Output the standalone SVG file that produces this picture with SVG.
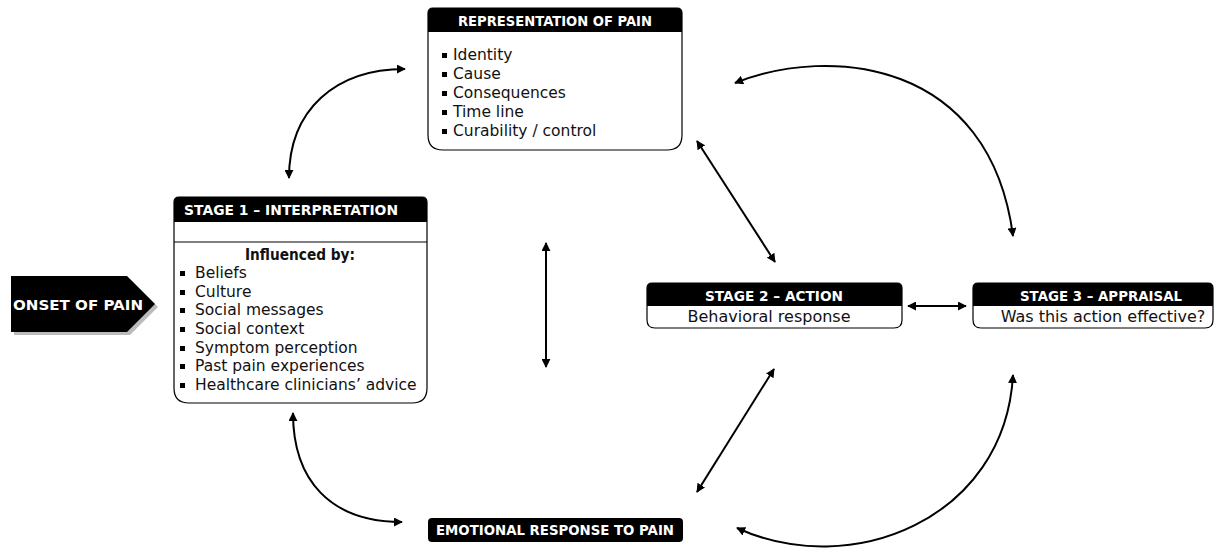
<svg xmlns="http://www.w3.org/2000/svg" width="1225" height="549" viewBox="0 0 1225 549">
<defs>
<marker id="ah" viewBox="0 0 10 10" refX="9" refY="5" markerWidth="4.5" markerHeight="4.5" orient="auto-start-reverse" markerUnits="strokeWidth">
<path d="M0,0 L10,5 L0,10 z" fill="#000"/>
</marker>
<style>
.box{fill:#fff;stroke:#000;stroke-width:1.2}
.hdr{fill:#000}
.ht{font-family:"DejaVu Sans",sans-serif;font-weight:bold;font-size:14px;fill:#fff;text-anchor:middle}
.bt{font-family:"DejaVu Sans",sans-serif;font-size:15.5px;fill:#111}
.btc{font-family:"DejaVu Sans",sans-serif;font-size:16px;fill:#111;text-anchor:middle}
.bul{fill:#000}
.con{fill:none;stroke:#000;stroke-width:2;marker-start:url(#ah);marker-end:url(#ah)}
</style>
</defs>
<rect width="1225" height="549" fill="#fff"/>

<g id="onset">
<path d="M14,279 L130,279 L158,307 L130,335 L14,335 z" fill="#bbb"/>
<path d="M11,276 L127,276 L155,304 L127,332 L11,332 z" fill="#000"/>
<text x="78" y="310" class="ht" font-size="15" textLength="130" lengthAdjust="spacingAndGlyphs">ONSET OF PAIN</text>
</g>

<g id="representation">
<path d="M428,13 Q428,8 433,8 L677,8 Q682,8 682,13 L682,135 Q682,150 667,150 L443,150 Q428,150 428,135 z" class="box"/>
<path d="M428,13 Q428,8 433,8 L677,8 Q682,8 682,13 L682,32 L428,32 z" class="hdr"/>
<text x="555" y="26" class="ht" textLength="194" lengthAdjust="spacingAndGlyphs">REPRESENTATION OF  PAIN</text>
<rect x="442" y="53" width="5" height="5" class="bul"/>
<rect x="442" y="72" width="5" height="5" class="bul"/>
<rect x="442" y="91" width="5" height="5" class="bul"/>
<rect x="442" y="110" width="5" height="5" class="bul"/>
<rect x="442" y="129" width="5" height="5" class="bul"/>
<text x="453" y="60" class="bt">Identity</text>
<text x="453" y="79" class="bt">Cause</text>
<text x="453" y="98" class="bt">Consequences</text>
<text x="453" y="117" class="bt">Time line</text>
<text x="453" y="136" class="bt">Curability / control</text>
</g>

<g id="stage1">
<path d="M174,202 Q174,197 179,197 L422,197 Q427,197 427,202 L427,388 Q427,403 412,403 L189,403 Q174,403 174,388 z" class="box"/>
<path d="M174,202 Q174,197 179,197 L422,197 Q427,197 427,202 L427,222 L174,222 z" class="hdr"/>
<line x1="174" y1="242" x2="427" y2="242" stroke="#000" stroke-width="1.2"/>
<text x="291" y="215" class="ht" textLength="214" lengthAdjust="spacingAndGlyphs">STAGE 1 – INTERPRETATION</text>
<text x="300" y="260" class="bt" text-anchor="middle" font-weight="bold" textLength="110" lengthAdjust="spacingAndGlyphs">Influenced by:</text>
<rect x="180" y="271" width="5" height="5" class="bul"/>
<rect x="180" y="290" width="5" height="5" class="bul"/>
<rect x="180" y="308" width="5" height="5" class="bul"/>
<rect x="180" y="327" width="5" height="5" class="bul"/>
<rect x="180" y="346" width="5" height="5" class="bul"/>
<rect x="180" y="364" width="5" height="5" class="bul"/>
<rect x="180" y="383" width="5" height="5" class="bul"/>
<text x="195" y="278" class="bt">Beliefs</text>
<text x="195" y="297" class="bt">Culture</text>
<text x="195" y="315" class="bt">Social messages</text>
<text x="195" y="334" class="bt">Social context</text>
<text x="195" y="353" class="bt">Symptom perception</text>
<text x="195" y="371" class="bt">Past pain experiences</text>
<text x="195" y="390" class="bt">Healthcare clinicians’ advice</text>
</g>

<g id="stage2">
<path d="M647,288 Q647,283 652,283 L897,283 Q902,283 902,288 L902,320 Q902,328 894,328 L655,328 Q647,328 647,320 z" class="box"/>
<path d="M647,288 Q647,283 652,283 L897,283 Q902,283 902,288 L902,306 L647,306 z" class="hdr"/>
<text x="774" y="301" class="ht" textLength="138" lengthAdjust="spacingAndGlyphs">STAGE 2 – ACTION</text>
<text x="769" y="322" class="btc">Behavioral response</text>
</g>

<g id="stage3">
<path d="M973,288 Q973,283 978,283 L1208,283 Q1213,283 1213,288 L1213,320 Q1213,328 1205,328 L981,328 Q973,328 973,320 z" class="box"/>
<path d="M973,288 Q973,283 978,283 L1208,283 Q1213,283 1213,288 L1213,306 L973,306 z" class="hdr"/>
<text x="1101" y="301" class="ht" textLength="162" lengthAdjust="spacingAndGlyphs">STAGE 3 – APPRAISAL</text>
<text x="1103" y="322" class="btc">Was this action effective?</text>
</g>

<g id="emotional">
<rect x="428" y="518" width="255" height="24" rx="4" class="hdr"/>
<text x="555" y="535" class="ht" textLength="238" lengthAdjust="spacingAndGlyphs">EMOTIONAL RESPONSE TO PAIN</text>
</g>

<g id="connectors">
<path d="M289,178 C289,110 335,69 405,69" class="con"/>
<path d="M735,83 C830,45 990,60 1013,236" class="con"/>
<line x1="546" y1="243" x2="546" y2="367" class="con"/>
<line x1="697" y1="141" x2="775" y2="262" class="con"/>
<line x1="697" y1="492" x2="774" y2="369" class="con"/>
<path d="M1013,375 C1005,520 850,580 737,528" class="con"/>
<path d="M293,413 C293,480 330,522 402,522" class="con"/>
<line x1="908" y1="306" x2="966" y2="306" class="con"/>
</g>
</svg>
